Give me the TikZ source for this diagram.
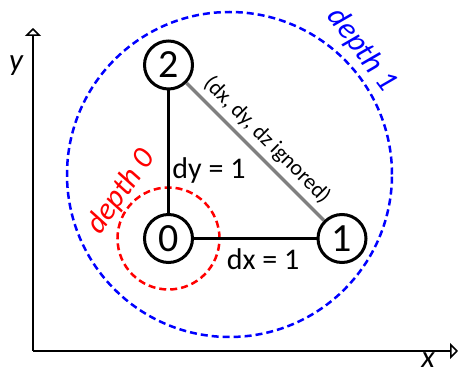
\documentclass[tikz,border=0pt]{standalone}
\usepackage{fontspec}
\setmainfont{Carlito}
\usetikzlibrary{arrows.meta}
\definecolor{edgegray}{RGB}{128,128,128}
\tikzset{
  vtx/.style={circle, draw=black, line width=3pt, fill=white, minimum size=48pt, inner sep=0pt, font=\fontsize{40}{40}\selectfont},
  edgeblack/.style={line width=3pt, draw=black},
  edgegrayline/.style={line width=3.5pt, draw=edgegray},
  depthcircle/.style={line width=2.5pt, dash pattern=on 7pt off 4pt},
  axisline/.style={line width=1.5pt, -{Triangle[open, width=16pt, length=8pt, line width=1.5pt]}},
  lbl/.style={font=\fontsize{30}{30}\selectfont, inner sep=0pt},
  smalllbl/.style={font=\fontsize{22}{22}\selectfont, inner sep=0pt},
  depthlbl/.style={font=\fontsize{31}{31}\selectfont\itshape, inner sep=0pt},
}
\begin{document}
\begin{tikzpicture}[x=1pt, y=-1pt]
\useasboundingbox (0,0) rectangle (459,374);
% axes
\coordinate (origin) at (33,351);
\coordinate (ytip) at (33,28);
\coordinate (xtip) at (458,351);
\draw[axisline] (origin) -- (ytip);
\draw[axisline] (origin) -- (xtip);
\node[depthlbl] (ylab) at (16,66) {y};
\node[depthlbl] (xlab) at (428,360) {x};
% depth circles
\node[draw=blue, depthcircle, circle, minimum size=325pt, inner sep=0pt] (d1) at (229.5,174.5) {};
\node[draw=red, depthcircle, circle, minimum size=102pt, inner sep=0pt] (d0) at (168.5,238.5) {};
% vertices
\node[vtx] (n0) at (168.5,238.5) {0};
\node[vtx] (n1) at (342,238.5) {1};
\node[vtx] (n2) at (168.5,65) {2};
% edges
\draw[edgeblack] (n0) -- (n2);
\draw[edgeblack] (n0) -- (n1);
\draw[edgegrayline] (n2) -- node[sloped, anchor=south, yshift=5pt, smalllbl] (elab) {(dx, dy, dz ignored)} (n1);
% labels
\node[lbl] (dylab) at (209,171) {dy = 1};
\node[lbl] (dxlab) at (263,259) {dx = 1};
\node[depthlbl, red, rotate=55] (l0) at (121,192) {depth 0};
\node[depthlbl, blue, rotate=-53] (l1) at (362,50) {depth 1};
\end{tikzpicture}
\end{document}
